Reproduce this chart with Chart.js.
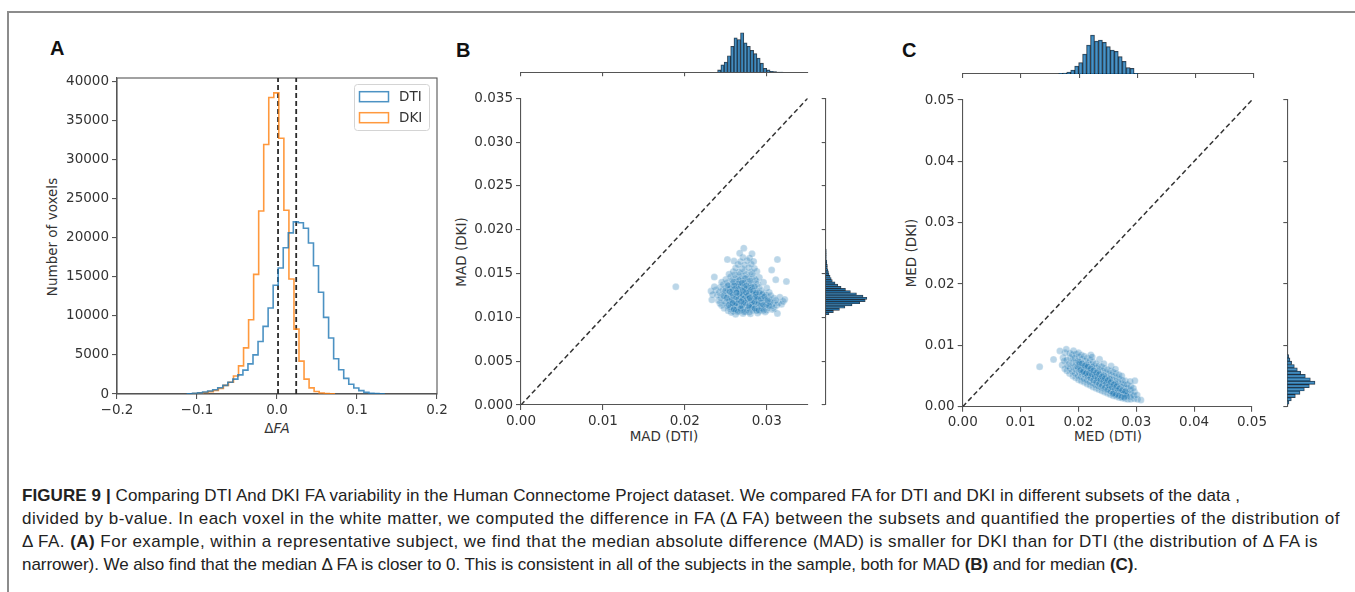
<!DOCTYPE html>
<html><head><meta charset="utf-8">
<script src="https://cdn.jsdelivr.net/npm/chart.js@4.4.1/dist/chart.umd.min.js"></script>
<style>
html,body{margin:0;padding:0;background:#fff;}
body{width:1355px;height:592px;position:relative;overflow:hidden;font-family:'DejaVu Sans',sans-serif;}
canvas{position:absolute;}
.lbl{position:absolute;font-family:'Liberation Sans',Arial,sans-serif;font-weight:bold;font-size:20px;color:#111;line-height:20px;}
.ax{position:absolute;font-family:'DejaVu Sans',sans-serif;font-size:13.5px;color:#333;white-space:nowrap;line-height:14px;transform:translate(-50%,-50%);}
.axv{transform:translate(-50%,-50%) rotate(-90deg);}
.cap{position:absolute;left:22px;font-family:'Liberation Sans',Arial,sans-serif;font-size:17px;line-height:23px;color:#222;white-space:nowrap;}
</style></head><body>
<div style="position:absolute;left:7px;top:11px;width:1348px;height:1.5px;background:#8c8c8c"></div>
<div style="position:absolute;left:7px;top:11px;width:1.5px;height:581px;background:#8c8c8c"></div>
<div class="lbl" style="left:50px;top:38px">A</div>
<div class="lbl" style="left:456px;top:40px">B</div>
<div class="lbl" style="left:902px;top:40px">C</div>
<div class="ax axv" style="left:52px;top:237px">Number of voxels</div>
<div class="ax" style="left:277px;top:428px">Δ<i>FA</i></div>
<div class="ax axv" style="left:461px;top:252px">MAD (DKI)</div>
<div class="ax" style="left:664px;top:436px">MAD (DTI)</div>
<div class="ax axv" style="left:911px;top:253px">MED (DKI)</div>
<div class="ax" style="left:1108px;top:436px">MED (DTI)</div>
<div class="cap" data-right="1240" style="top:484px"><b>FIGURE 9 |</b> Comparing DTI And DKI FA variability in the Human Connectome Project dataset. We compared FA for DTI and DKI in different subsets of the data ,</div>
<div class="cap" data-right="1340" style="top:507px">divided by b-value. In each voxel in the white matter, we computed the difference in FA (Δ FA) between the subsets and quantified the properties of the distribution of</div>
<div class="cap" data-right="1318" style="top:530px">Δ FA. <b>(A)</b> For example, within a representative subject, we find that the median absolute difference (MAD) is smaller for DKI than for DTI (the distribution of Δ FA is</div>
<div class="cap" data-right="1138" style="top:553px">narrower). We also find that the median Δ FA is closer to 0. This is consistent in all of the subjects in the sample, both for MAD <b>(B)</b> and for median <b>(C)</b>.</div>
<script>
// ---------- Panel A : histograms of delta FA ----------
const dtiEdges = [-0.1119,-0.1056,-0.0993,-0.0930,-0.0867,-0.0804,-0.0741,-0.0678,-0.0615,-0.0552,-0.0489,-0.0426,-0.0363,-0.0300,-0.0237,-0.0174,-0.0111,-0.0048,0.0015,0.0078,0.0141,0.0204,0.0267,0.0330,0.0393,0.0456,0.0519,0.0582,0.0645,0.0708,0.0771,0.0834,0.0897,0.0960,0.1023,0.1086,0.1149,0.1212,0.1275,0.1338];
const dtiCounts = [40,80,150,250,380,550,800,1100,1500,1900,2450,3050,3850,5000,6720,8650,11000,13900,16100,18700,20600,22000,21900,21200,19300,16400,13000,9800,7150,4500,3100,2000,1250,770,430,210,100,50,25];
const dkiEdges = [-0.1048,-0.0985,-0.0922,-0.0859,-0.0796,-0.0733,-0.0670,-0.0607,-0.0544,-0.0481,-0.0418,-0.0355,-0.0292,-0.0229,-0.0166,-0.0103,-0.0040,0.0023,0.0086,0.0149,0.0212,0.0275,0.0338,0.0401,0.0464,0.0527,0.0590,0.0653,0.0716];
const dkiCounts = [60,120,200,300,450,700,1100,1500,2300,3600,5900,9500,15300,23400,31900,37900,38500,32700,23500,14700,8300,4200,1900,780,320,120,50,20];
const medianDKI = 0.0013;
const medianDTI = 0.0240;
const aXTicks = [-0.2,-0.1,0,0.1,0.2];
const aYTicks = [0,5000,10000,15000,20000,25000,30000,35000,40000];
const aYMax = 40400;

// ---------- Panel B : MAD (DTI) vs MAD (DKI), one point per subject ----------
const madPairs = [
[0.0262,0.01035],[0.0271,0.01045],[0.0280,0.01040],[0.0289,0.01050],[0.0257,0.01055],[0.0298,0.01060],
[0.0253,0.01075],[0.0259,0.01068],[0.0266,0.01072],[0.0274,0.01065],[0.0283,0.01078],[0.0291,0.01070],[0.0300,0.01082],[0.0307,0.01090],
[0.0248,0.01105],[0.0255,0.01098],[0.0261,0.01102],[0.0268,0.01095],[0.0276,0.01108],[0.0282,0.01100],[0.0288,0.01104],[0.0295,0.01096],[0.0302,0.01110],[0.0309,0.01102],
[0.0245,0.01135],[0.0252,0.01128],[0.0258,0.01132],[0.0264,0.01125],[0.0270,0.01138],[0.0277,0.01130],[0.0285,0.01134],[0.0292,0.01127],[0.0299,0.01136],[0.0306,0.01129],[0.0312,0.01138],
[0.0243,0.01158],[0.0250,0.01165],[0.0256,0.01160],[0.0262,0.01154],[0.0269,0.01166],[0.0274,0.01158],[0.0280,0.01162],[0.0287,0.01155],[0.0294,0.01168],[0.0301,0.01160],[0.0308,0.01156],[0.0314,0.01164],
[0.0241,0.01192],[0.0248,0.01185],[0.0254,0.01196],[0.0260,0.01188],[0.0266,0.01194],[0.0272,0.01186],[0.0278,0.01198],[0.0284,0.01190],[0.0290,0.01185],[0.0297,0.01195],[0.0304,0.01188],[0.0311,0.01192],
[0.0244,0.01222],[0.0251,0.01215],[0.0257,0.01226],[0.0263,0.01218],[0.0270,0.01224],[0.0276,0.01216],[0.0282,0.01228],[0.0289,0.01220],[0.0295,0.01214],[0.0302,0.01225],[0.0309,0.01218],
[0.0240,0.01252],[0.0247,0.01245],[0.0253,0.01256],[0.0259,0.01248],[0.0265,0.01254],[0.0271,0.01246],[0.0278,0.01258],[0.0285,0.01250],[0.0292,0.01244],[0.0299,0.01255],[0.0305,0.01248],
[0.0242,0.01282],[0.0249,0.01275],[0.0256,0.01286],[0.0262,0.01278],[0.0268,0.01284],[0.0275,0.01276],[0.0281,0.01288],[0.0288,0.01280],[0.0296,0.01274],[0.0303,0.01285],
[0.0238,0.01312],[0.0246,0.01305],[0.0253,0.01316],[0.0260,0.01308],[0.0267,0.01314],[0.0273,0.01306],[0.0279,0.01318],[0.0286,0.01310],[0.0293,0.01304],
[0.0243,0.01342],[0.0250,0.01335],[0.0257,0.01346],[0.0264,0.01338],[0.0270,0.01344],[0.0277,0.01336],[0.0284,0.01348],[0.0291,0.01340],[0.0300,0.01334],
[0.0247,0.01372],[0.0254,0.01365],[0.0261,0.01376],[0.0268,0.01368],[0.0274,0.01374],[0.0281,0.01366],[0.0289,0.01378],
[0.0245,0.01402],[0.0252,0.01395],[0.0259,0.01406],[0.0266,0.01398],[0.0273,0.01404],[0.0280,0.01396],[0.0287,0.01408],[0.0296,0.01400],
[0.0250,0.01432],[0.0258,0.01425],[0.0265,0.01436],[0.0271,0.01428],[0.0279,0.01434],[0.0286,0.01426],
[0.0256,0.01462],[0.0263,0.01455],[0.0270,0.01466],[0.0277,0.01458],[0.0284,0.01464],[0.0291,0.01456],
[0.0254,0.01492],[0.0261,0.01485],[0.0268,0.01496],[0.0275,0.01488],[0.0282,0.01494],
[0.0259,0.01522],[0.0266,0.01515],[0.0273,0.01526],[0.0281,0.01518],[0.0288,0.01524],
[0.0262,0.01562],[0.0270,0.01555],[0.0278,0.01566],[0.0285,0.01558],
[0.0265,0.01602],[0.0273,0.01596],[0.0281,0.01606],
[0.0260,0.01642],[0.0268,0.01636],[0.0276,0.01646],[0.0284,0.01638],
[0.0271,0.01682],[0.0279,0.01676],[0.0267,0.01732],[0.0282,0.01726],[0.0272,0.01790],
[0.0189,0.01350],[0.0313,0.01660],[0.0306,0.01540],[0.0311,0.01430],[0.0324,0.01410],[0.0313,0.01045],[0.0318,0.01150],[0.0236,0.01460],[0.0232,0.01300],[0.0252,0.01660],
[0.0234,0.01260],[0.0236,0.01350],[0.0233,0.01200],[0.0320,0.01180],[0.0316,0.01230],[0.0322,0.01205],
[0.0258,0.01150],[0.0265,0.01120],[0.0271,0.01170],[0.0279,0.01140],[0.0286,0.01180],[0.0261,0.01210],[0.0268,0.01240],[0.0275,0.01200],[0.0283,0.01230],[0.0290,0.01210],
[0.0257,0.01270],[0.0264,0.01300],[0.0272,0.01270],[0.0280,0.01290],[0.0287,0.01260],[0.0260,0.01090],[0.0269,0.01080],[0.0277,0.01110],[0.0285,0.01090],[0.0293,0.01130],
[0.0255,0.01330],[0.0263,0.01360],[0.0271,0.01320],[0.0279,0.01350],[0.0274,0.01230],[0.0267,0.01190],[0.0282,0.01170],[0.0276,0.01260],[0.0270,0.01140],[0.0262,0.01170],
[0.02545,0.01185],[0.02605,0.01145],[0.02655,0.01205],[0.02715,0.01155],[0.02765,0.01215],[0.02825,0.01145],[0.02875,0.01195],[0.02935,0.01165],[0.02985,0.01205],[0.02585,0.01255],
[0.02645,0.01285],[0.02705,0.01255],[0.02765,0.01305],[0.02825,0.01265],[0.02885,0.01235],[0.02945,0.01265],[0.02615,0.01325],[0.02685,0.01355],[0.02745,0.01325],[0.02815,0.01345],
[0.02555,0.01115],[0.02625,0.01085],[0.02695,0.01125],[0.02755,0.01085],[0.02815,0.01115],[0.02875,0.01075],[0.02935,0.01105],[0.02995,0.01145],[0.03045,0.01175],[0.02475,0.01245],
[0.02495,0.01305],[0.02525,0.01365],[0.02595,0.01405],[0.02665,0.01425],[0.02735,0.01445],[0.02795,0.01415],[0.02725,0.01395],[0.02655,0.01385],
[0.02515,0.01225],[0.02535,0.01142],[0.02572,0.01198],[0.02588,0.01312],[0.02628,0.01232],[0.02638,0.01158],[0.02668,0.01268],[0.02682,0.01102],[0.02712,0.01212],[0.02726,0.01342],
[0.02738,0.01168],[0.02772,0.01248],[0.02786,0.01128],[0.02808,0.01196],[0.02836,0.01302],[0.02848,0.01172],[0.02862,0.01232],[0.02898,0.01152],[0.02912,0.01282],[0.02928,0.01212],
[0.02958,0.01142],[0.02972,0.01238],[0.03012,0.01192],[0.03028,0.01132],[0.02548,0.01292],[0.02602,0.01362],[0.02652,0.01322],[0.02698,0.01392],[0.02752,0.01362],[0.02802,0.01312],
[0.02852,0.01352],[0.02598,0.01092],[0.02648,0.01062],[0.02722,0.01062],[0.02788,0.01058],[0.02852,0.01102],[0.02902,0.01082],[0.02962,0.01078],[0.02688,0.01182],[0.02748,0.01282],
[0.02792,0.01222],[0.02632,0.01282],[0.02582,0.01162],[0.02868,0.01282],[0.02708,0.01302]
];
const bDiagonal = [0, 0.035];
const bXTicks = [0,0.01,0.02,0.03];
const bYTicks = [0,0.005,0.010,0.015,0.020,0.025,0.030,0.035];
const bTopEdges = [0.0240,0.0244,0.0248,0.0252,0.0256,0.0260,0.0264,0.0268,0.0272,0.0276,0.0280,0.0284,0.0288,0.0292,0.0296,0.0300,0.0304,0.0308,0.0312,0.0316,0.0320];
const bTopCounts = [7,22,30,49,77,102,97,117,87,77,65,55,42,27,12,7,3,2,1,1];
const bRightEdges = [0.01030,0.01055,0.01080,0.01105,0.01130,0.01155,0.01180,0.01205,0.01230,0.01255,0.01280,0.01305,0.01330,0.01355,0.01380,0.01405,0.01430,0.01455,0.01480,0.01505,0.01530,0.01555,0.01580,0.01605,0.01630,0.01655,0.01680,0.01705,0.01730,0.01755,0.01780];
const bRightCounts = [6,14,25,35,48,62,72,75,68,56,45,36,28,22,17,12,10,8,6,5,4,3,3,2,2,1,1,1,1,1];

// ---------- Panel C : MED (DTI) vs MED (DKI) ----------
const medPairs = [
[0.01720,0.00680],[0.01735,0.00800],
[0.01765,0.00620],[0.01755,0.00745],[0.01770,0.00880],
[0.01800,0.00585],[0.01812,0.00662],[0.01795,0.00760],[0.01790,0.00935],
[0.01848,0.00540],[0.01855,0.00622],[0.01842,0.00700],[0.01860,0.00792],[0.01850,0.00870],
[0.01905,0.00500],[0.01895,0.00572],[0.01910,0.00640],[0.01898,0.00712],[0.01906,0.00782],[0.01892,0.00850],[0.01915,0.00912],
[0.01952,0.00470],[0.01945,0.00540],[0.01960,0.00602],[0.01948,0.00662],[0.01956,0.00720],[0.01942,0.00792],[0.01958,0.00860],
[0.02003,0.00440],[0.01995,0.00502],[0.02010,0.00560],[0.01998,0.00622],[0.02006,0.00682],[0.01992,0.00742],[0.02008,0.00812],[0.02000,0.00880],
[0.02052,0.00420],[0.02045,0.00482],[0.02060,0.00532],[0.02048,0.00592],[0.02056,0.00652],[0.02042,0.00712],[0.02058,0.00772],[0.02050,0.00842],
[0.02103,0.00400],[0.02095,0.00452],[0.02110,0.00512],[0.02098,0.00562],[0.02106,0.00622],[0.02092,0.00682],[0.02108,0.00742],[0.02100,0.00822],
[0.02152,0.00370],[0.02145,0.00432],[0.02160,0.00482],[0.02148,0.00542],[0.02156,0.00592],[0.02142,0.00652],[0.02158,0.00712],[0.02150,0.00792],
[0.02203,0.00350],[0.02195,0.00402],[0.02210,0.00462],[0.02198,0.00512],[0.02206,0.00572],[0.02192,0.00622],[0.02208,0.00682],[0.02200,0.00762],[0.02215,0.00842],
[0.02252,0.00320],[0.02245,0.00382],[0.02260,0.00432],[0.02248,0.00492],[0.02256,0.00542],[0.02242,0.00602],[0.02258,0.00662],[0.02250,0.00732],[0.02238,0.00812],
[0.02303,0.00300],[0.02295,0.00352],[0.02310,0.00412],[0.02298,0.00462],[0.02306,0.00512],[0.02292,0.00572],[0.02308,0.00632],[0.02300,0.00702],
[0.02352,0.00280],[0.02345,0.00332],[0.02360,0.00382],[0.02348,0.00432],[0.02356,0.00492],[0.02342,0.00542],[0.02358,0.00602],[0.02350,0.00672],[0.02365,0.00772],
[0.02403,0.00260],[0.02395,0.00312],[0.02410,0.00362],[0.02398,0.00412],[0.02406,0.00462],[0.02392,0.00522],[0.02408,0.00582],[0.02400,0.00652],
[0.02452,0.00240],[0.02445,0.00292],[0.02460,0.00342],[0.02448,0.00392],[0.02456,0.00442],[0.02442,0.00492],[0.02458,0.00552],[0.02450,0.00622],[0.02440,0.00702],
[0.02503,0.00220],[0.02495,0.00272],[0.02510,0.00322],[0.02498,0.00372],[0.02506,0.00422],[0.02492,0.00472],[0.02508,0.00532],[0.02500,0.00602],
[0.02552,0.00200],[0.02545,0.00252],[0.02560,0.00302],[0.02548,0.00352],[0.02556,0.00402],[0.02542,0.00452],[0.02558,0.00512],[0.02550,0.00582],[0.02565,0.00662],
[0.02603,0.00180],[0.02595,0.00232],[0.02610,0.00282],[0.02598,0.00332],[0.02606,0.00382],[0.02592,0.00432],[0.02608,0.00492],[0.02600,0.00562],
[0.02652,0.00170],[0.02645,0.00212],[0.02660,0.00262],[0.02648,0.00312],[0.02656,0.00362],[0.02642,0.00412],[0.02658,0.00472],[0.02650,0.00542],[0.02640,0.00612],
[0.02703,0.00150],[0.02695,0.00202],[0.02710,0.00242],[0.02698,0.00292],[0.02706,0.00342],[0.02692,0.00392],[0.02708,0.00452],[0.02700,0.00522],
[0.02752,0.00140],[0.02745,0.00182],[0.02760,0.00232],[0.02748,0.00272],[0.02756,0.00322],[0.02742,0.00372],[0.02758,0.00432],[0.02750,0.00502],
[0.02803,0.00130],[0.02795,0.00172],[0.02810,0.00212],[0.02798,0.00262],[0.02806,0.00312],[0.02792,0.00362],[0.02808,0.00422],
[0.02852,0.00120],[0.02845,0.00162],[0.02860,0.00202],[0.02848,0.00252],[0.02856,0.00302],[0.02842,0.00362],
[0.02903,0.00120],[0.02895,0.00162],[0.02910,0.00212],[0.02898,0.00272],[0.02906,0.00332],[0.02892,0.00412],
[0.02962,0.00130],[0.02955,0.00182],[0.02968,0.00242],[0.02950,0.00302],
[0.03020,0.00120],[0.03015,0.00190],[0.03080,0.00110],
[0.01330,0.00650],[0.01570,0.00770],[0.02975,0.00424],[0.01680,0.00910],
[0.02125,0.00560],[0.02175,0.00520],[0.02225,0.00500],[0.02275,0.00470],[0.02325,0.00440],[0.02375,0.00410],[0.02425,0.00380],[0.02475,0.00350],[0.02525,0.00320],[0.02575,0.00290],
[0.02625,0.00260],[0.02675,0.00230],[0.02725,0.00200],[0.02775,0.00190],[0.02160,0.00620],[0.02210,0.00590],[0.02265,0.00560],[0.02315,0.00530],[0.02365,0.00500],[0.02415,0.00470],
[0.02465,0.00430],[0.02520,0.00400],[0.02570,0.00370],[0.02620,0.00340],[0.02680,0.00300],[0.02730,0.00270],[0.02780,0.00240],[0.02830,0.00220],[0.02080,0.00600],[0.02030,0.00640],
[0.02020,0.00700],[0.02070,0.00660],[0.02120,0.00640],[0.02170,0.00600],[0.02220,0.00560],[0.02270,0.00520],[0.02320,0.00490],[0.02370,0.00460],[0.02420,0.00430],[0.02470,0.00400],
[0.02520,0.00360],[0.02570,0.00330],[0.02620,0.00300],[0.02670,0.00270],[0.02720,0.00240],[0.02770,0.00220],[0.02820,0.00190],[0.02060,0.00560],[0.02110,0.00530],[0.02160,0.00500],
[0.02210,0.00470],[0.02260,0.00430],[0.02310,0.00400],[0.02360,0.00370],[0.02410,0.00340],[0.02460,0.00310],[0.02510,0.00280],[0.02560,0.00250],[0.02610,0.00220],[0.02660,0.00200],
[0.02710,0.00180],[0.02760,0.00160],[0.02140,0.00690],[0.02240,0.00650],[0.02340,0.00580],[0.02440,0.00510],[0.02540,0.00450],[0.02640,0.00380],
[0.01985,0.00652],[0.02035,0.00598],[0.02085,0.00572],[0.02135,0.00545],[0.02185,0.00548],[0.02235,0.00528],[0.02285,0.00495],[0.02335,0.00462],[0.02385,0.00442],[0.02435,0.00418],
[0.02485,0.00382],[0.02535,0.00342],[0.02585,0.00318],[0.02635,0.00282],[0.02685,0.00258],[0.02735,0.00222],[0.02785,0.00202],[0.02835,0.00172],[0.02012,0.00728],[0.02062,0.00702],
[0.02112,0.00668],[0.02162,0.00652],[0.02212,0.00618],[0.02262,0.00588],[0.02312,0.00552],[0.02362,0.00528],[0.02412,0.00492],[0.02462,0.00462],[0.02512,0.00432],[0.02562,0.00398],
[0.02612,0.00362],[0.02662,0.00332],[0.02712,0.00298],[0.02762,0.00268],[0.02812,0.00248],[0.02742,0.00158],[0.02792,0.00148],[0.02692,0.00178],[0.02642,0.00192],[0.02592,0.00212]
];
const cDiagonal = [0, 0.05];
const cTicks = [0,0.01,0.02,0.03,0.04,0.05];
const cTopEdges = [0.01650,0.01718,0.01786,0.01854,0.01922,0.01990,0.02058,0.02126,0.02194,0.02262,0.02330,0.02398,0.02466,0.02534,0.02602,0.02670,0.02738,0.02806,0.02874,0.02942,0.03010];
const cTopCounts = [2,3,6,12,24,34,60,87,117,99,102,95,82,72,68,52,38,19,17,2];
const cRightEdges = [0.00040,0.00094,0.00148,0.00202,0.00256,0.00310,0.00364,0.00418,0.00472,0.00526,0.00580,0.00634,0.00688,0.00742,0.00796,0.00850];
const cRightCounts = [5,12,24,38,51,66,83,69,54,40,30,21,13,8,4];

// ---------- caption fitting ----------
document.querySelectorAll('.cap').forEach(el=>{
  const target = +el.dataset.right - 22;
  const natural = el.getBoundingClientRect().width;
  const n = el.textContent.length;
  el.style.letterSpacing = ((target-natural)/n).toFixed(3)+'px';
});

// ---------- helpers ----------
Chart.defaults.font.family = "'DejaVu Sans', sans-serif";
Chart.defaults.font.size = 13.5;
Chart.defaults.color = '#333';
Chart.defaults.animation = false;
const AX = '#555';
const BLUE_FILL = 'rgba(31,119,180,0.8)';
const BAR_EDGE = 'rgba(15,25,35,0.85)';

function mk(L,T,W,H){
  const c=document.createElement('canvas');
  c.width=W;c.height=H;
  c.style.left=L+'px';c.style.top=T+'px';c.style.width=W+'px';c.style.height=H+'px';
  document.body.appendChild(c);return c;
}
function scale(pos,min,max,ticks,fmt,size,tickLen){
  return {type:'linear',position:pos,min:min,max:max,offset:false,
    afterBuildTicks:s=>{s.ticks=ticks.map(v=>({value:v}));},
    afterFit:s=>{ if(pos==='left'||pos==='right'){s.width=size;} else {s.height=size;} },
    ticks:{callback:(v)=>fmt(v),padding:3,color:'#333',autoSkip:false,maxRotation:0,font:{size:13.5}},
    grid:{drawOnChartArea:false,drawTicks:true,tickLength:tickLen,color:AX,lineWidth:1.1,offset:false},
    border:{display:true,color:AX,width:1.1}};
}
const hidden = (min,max)=>({type:'linear',display:false,min:min,max:max,offset:false,grid:{offset:false}});
const blank = ()=>'';
function stepPoints(edges,counts){
  const pts=[{x:edges[0],y:0}];
  counts.forEach((c,i)=>pts.push({x:edges[i],y:c}));
  pts.push({x:edges[edges.length-1],y:0});
  return pts;
}
function centers(edges){ return edges.slice(0,-1).map((e,i)=>(e+edges[i+1])/2); }
const baseOpts = {responsive:false,animation:false,events:[],plugins:{legend:{display:false},tooltip:{enabled:false}}};

// ---------- Chart A ----------
const frameA = {id:'frameA',beforeDatasetsDraw(chart){
  const a=chart.chartArea,ctx=chart.ctx;ctx.save();ctx.strokeStyle=AX;ctx.lineWidth=1.1;
  ctx.strokeRect(a.left,a.top,a.right-a.left,a.bottom-a.top);ctx.restore();}};
const legendA = {id:'legendA',afterDraw(chart){
  const a=chart.chartArea,ctx=chart.ctx;const w=75,h=46,x=a.right-8-w,y=a.top+6;
  ctx.save();
  ctx.beginPath();ctx.roundRect(x+0.5,y+0.5,w,h,3);
  ctx.fillStyle='rgba(255,255,255,0.85)';ctx.fill();ctx.strokeStyle='#d4d4d4';ctx.lineWidth=1;ctx.stroke();
  chart.data.datasets.slice(0,2).forEach((ds,i)=>{
    const cy=y+12.7+i*21;
    ctx.strokeStyle=ds.borderColor;ctx.lineWidth=1.5;ctx.strokeRect(x+5.5,cy-5,29,10);
    ctx.fillStyle='#333';ctx.font="13.5px 'DejaVu Sans'";ctx.textBaseline='middle';ctx.textAlign='left';
    ctx.fillText(ds.label,x+45,cy+0.5);
  });
  ctx.restore();}};
new Chart(mk(40,60,420,380),{
  type:'line',
  data:{datasets:[
    {label:'DTI',data:stepPoints(dtiEdges,dtiCounts),borderColor:'rgba(31,119,180,0.8)',borderWidth:1.6,stepped:'before',pointRadius:0,fill:false},
    {label:'DKI',data:stepPoints(dkiEdges,dkiCounts),borderColor:'rgba(255,127,14,0.8)',borderWidth:1.6,stepped:'before',pointRadius:0,fill:false},
    {label:'median DKI',data:[{x:medianDKI,y:0},{x:medianDKI,y:aYMax}],borderColor:'#2a2a2a',borderWidth:1.8,borderDash:[5,3],pointRadius:0},
    {label:'median DTI',data:[{x:medianDTI,y:0},{x:medianDTI,y:aYMax}],borderColor:'#2a2a2a',borderWidth:1.8,borderDash:[5,3],pointRadius:0}
  ]},
  options:Object.assign({},baseOpts,{
    layout:{padding:{top:18,right:23,left:0,bottom:0}},
    scales:{
      x:scale('bottom',-0.2,0.2,aXTicks,v=>(v<0?'\u2212':'')+Math.abs(v).toFixed(1),46,5),
      y:scale('left',0,aYMax,aYTicks,v=>String(Math.round(v)),77,5)
    }}),
  plugins:[frameA,legendA]
});

// ---------- Chart B ----------
const scatterStyle = {pointRadius:3.5,backgroundColor:'rgba(31,119,180,0.3)',borderColor:'rgba(255,255,255,0.4)',borderWidth:0.6};
const diagStyle = {showLine:true,borderColor:'#333',borderWidth:1.5,borderDash:[5,3],pointRadius:0,fill:false};
new Chart(mk(445,85,380,365),{
  type:'scatter',
  data:{datasets:[
    Object.assign({data:[{x:bDiagonal[0],y:bDiagonal[0]},{x:bDiagonal[1],y:bDiagonal[1]}]},diagStyle),
    Object.assign({data:madPairs.map(p=>({x:p[0],y:p[1]}))},scatterStyle)
  ]},
  options:Object.assign({},baseOpts,{
    layout:{padding:{top:13.3,right:17.3,left:0,bottom:0}},
    scales:{
      x:scale('bottom',0,0.035,bXTicks,v=>v.toFixed(2),45,5),
      y:scale('left',0,0.035,bYTicks,v=>v.toFixed(3),76,5)
    }})
});
new Chart(mk(515,25,300,55),{
  type:'bar',
  data:{datasets:[{data:centers(bTopEdges).map((c,i)=>({x:c,y:bTopCounts[i]})),backgroundColor:BLUE_FILL,borderColor:BAR_EDGE,borderWidth:0.8,barPercentage:1,categoryPercentage:1}]},
  options:Object.assign({},baseOpts,{
    layout:{padding:{top:5,right:7.3,left:6,bottom:0}},
    scales:{x:scale('bottom',0,0.035,bXTicks,blank,7.7,4),y:hidden(0,125)}})
});
new Chart(mk(820,85,60,365),{
  type:'bar',
  data:{datasets:[{data:centers(bRightEdges).map((c,i)=>({y:c,x:bRightCounts[i]})),backgroundColor:BLUE_FILL,borderColor:BAR_EDGE,borderWidth:0.7,barPercentage:1,categoryPercentage:1}]},
  options:Object.assign({},baseOpts,{
    indexAxis:'y',
    layout:{padding:{top:13.3,right:9.3,left:0,bottom:45}},
    scales:{y:scale('left',0,0.035,bYTicks,blank,5.7,4),x:hidden(0,82)}})
});

// ---------- Chart C ----------
new Chart(mk(885,85,385,365),{
  type:'scatter',
  data:{datasets:[
    Object.assign({data:[{x:cDiagonal[0],y:cDiagonal[0]},{x:cDiagonal[1],y:cDiagonal[1]}]},diagStyle),
    Object.assign({data:medPairs.map(p=>({x:p[0],y:p[1]}))},scatterStyle)
  ]},
  options:Object.assign({},baseOpts,{
    layout:{padding:{top:15,right:16,left:0,bottom:0}},
    scales:{
      x:scale('bottom',0,0.05,cTicks,v=>v.toFixed(2),43.3,5),
      y:scale('left',0,0.05,cTicks,v=>v.toFixed(2),77.7,5)
    }})
});
new Chart(mk(955,25,310,55),{
  type:'bar',
  data:{datasets:[{data:centers(cTopEdges).map((c,i)=>({x:c,y:cTopCounts[i]})),backgroundColor:BLUE_FILL,borderColor:BAR_EDGE,borderWidth:0.8,barPercentage:1,categoryPercentage:1}]},
  options:Object.assign({},baseOpts,{
    layout:{padding:{top:5,right:11,left:7.7,bottom:0}},
    scales:{x:scale('bottom',0,0.05,cTicks,blank,6,4),y:hidden(0,132)}})
});
new Chart(mk(1280,85,70,370),{
  type:'bar',
  data:{datasets:[{data:centers(cRightEdges).map((c,i)=>({y:c,x:cRightCounts[i]})),backgroundColor:BLUE_FILL,borderColor:BAR_EDGE,borderWidth:0.7,barPercentage:1,categoryPercentage:1}]},
  options:Object.assign({},baseOpts,{
    indexAxis:'y',
    layout:{padding:{top:15,right:18,left:0,bottom:48.3}},
    scales:{y:scale('left',0,0.05,cTicks,blank,7.3,4),x:hidden(0,134)}})
});
</script>
</body></html>
